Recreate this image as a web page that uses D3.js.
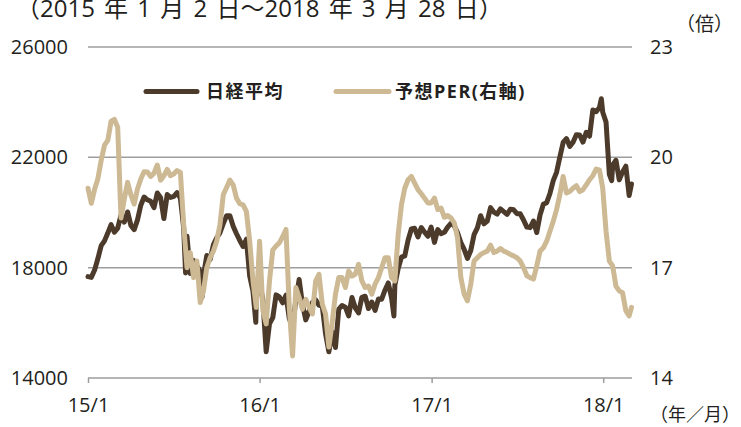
<!DOCTYPE html>
<html><head><meta charset="utf-8">
<script src="https://cdn.jsdelivr.net/npm/d3@7"></script>
<style>
body{margin:0;background:#fff}
svg{display:block}
text{font-family:'Open Sans','Noto Sans CJK JP',sans-serif;fill:#231f20}
</style>
</head><body>
<svg id="chart" width="741" height="427"></svg>
<script>
// ---- data ----
const titleText = "（2015 年 1 月 2 日～2018 年 3 月 28 日）";
const seriesNames = ["日経平均", "予想PER(右軸)"];
const rightUnit = "（倍）";
const xUnit = "（年／月）";
const startDate = "2015-01-30";   // first weekly observation shown
const lastDate = "2018-03-28";    // final observation
const nikkeiWeekly = [
17674,17648,17913,18332,18797,18971,19254,19560,19286,19435,
19907,19652,20020,19531,19379,19732,20264,20563,20461,20407,
20174,20706,20539,19779,20650,20544,20585,20724,20519,19435,
19136,17792,18264,18070,17880,17725,18438,18291,18825,19083,
19265,19597,19879,19883,19504,19230,18986,18769,19033,17698,
17147,16958,17518,16819,14952,15967,16188,17014,16938,16724,
17002,16164,15821,16848,17572,16666,16106,16412,16736,16834,
16642,16601,15599,14952,15682,15106,16497,16627,16569,16254,
16919,16545,16360,16925,16965,16519,16754,16449,16860,16856,
17184,17446,16905,17374,17968,18381,18426,18996,19401,19428,
19114,19454,19287,19137,19467,18918,19378,19235,19283,19469,
19604,19521,19262,18909,18664,18335,18620,19197,19445,19883,
19590,19686,20177,20013,19943,20132,20033,19929,20118,20099,
19959,19952,19729,19470,19452,19691,19274,19909,20296,20356,
20690,21155,21457,22008,22539,22681,22397,22550,22819,22811,
22553,22903,22765,23715,23654,23808,23632,23275,21383,21720,
21893,21182,21469,21677,20617,21031];
const perWeekly = [
19.16,18.75,19.13,19.42,19.92,20.33,20.46,20.98,21.03,20.82,
18.35,18.87,19.32,18.98,18.73,19.14,19.41,19.61,19.60,19.48,
19.57,19.79,19.38,19.50,19.67,19.50,19.55,19.64,19.59,18.17,
17.00,17.41,16.73,17.18,16.05,16.37,17.00,17.27,17.45,17.72,
18.17,18.98,19.18,19.38,19.25,18.89,18.74,18.71,18.53,17.72,
16.64,15.92,17.72,15.83,15.47,16.64,17.48,17.59,17.68,17.84,
18.04,15.92,14.60,16.46,16.19,15.87,16.14,15.92,15.74,16.64,
16.82,16.01,15.74,14.84,15.51,16.28,16.73,16.73,16.46,16.91,
16.77,16.82,17.09,16.64,16.46,16.50,16.28,16.55,16.73,17.00,
17.27,17.27,16.73,16.64,17.90,18.71,19.16,19.39,19.48,19.30,
19.12,19.01,18.89,18.76,18.76,18.89,18.58,18.62,18.37,18.42,
18.35,18.22,17.81,16.73,16.28,16.10,16.55,17.18,17.27,17.36,
17.41,17.45,17.61,17.41,17.45,17.52,17.45,17.41,17.36,17.32,
17.27,17.18,17.00,16.78,16.73,16.69,17.05,17.45,17.54,17.72,
17.99,18.26,18.58,18.98,19.48,19.03,19.07,19.16,19.23,19.07,
19.12,19.25,19.39,19.50,19.68,19.66,19.16,17.99,17.18,17.05,
16.50,16.37,16.32,15.83,15.69,15.92];
const nikkeiExtraDates = ["2015-08-25","2015-09-29","2016-01-21","2016-11-09","2018-01-23","2018-02-14"];
const nikkeiExtraValues = [17806,16930,16017,16251,24124,21154];
const leftTicks = [14000,18000,22000,26000];
const rightTicks = [14,17,20,23];
const xTickDates = ["2015-01-30","2016-01-29","2017-01-28","2018-01-27"];
const xTickLabels = ["15/1","16/1","17/1","18/1"];
const colors = {nikkei:"#4c3a2b", per:"#cdb993", grid:"#9d9d9d"};

// ---- build ----
const parse = d3.utcParse("%Y-%m-%d");
const n = nikkeiWeekly.length;
const weekDates = d3.range(n).map(i => i === n-1 ? parse(lastDate) : d3.utcDay.offset(parse(startDate), 7*i));
const nikkeiPts = weekDates.map((d,i)=>({d, v:nikkeiWeekly[i]}))
  .concat(nikkeiExtraDates.map((s,i)=>({d:parse(s), v:nikkeiExtraValues[i]})))
  .sort((a,b)=>a.d-b.d);
const perPts = weekDates.map((d,i)=>({d, v:perWeekly[i]}));

const L=88, R=631.5, T=47, B=378;
const svg = d3.select("#chart");
const x = d3.scaleUtc().domain([parse(startDate), parse(lastDate)]).range([L,R]);
const yL = d3.scaleLinear().domain([14000,26000]).range([B,T]);
const yR = d3.scaleLinear().domain([14,23]).range([B,T]);

// title
svg.append("text").attr("x",16).attr("y",17).attr("font-size",24).attr("word-spacing",3).text(titleText);

// grid
svg.append("g").selectAll("line").data(leftTicks).join("line")
  .attr("x1",L).attr("x2",632).attr("y1",d=>yL(d)).attr("y2",d=>yL(d))
  .attr("stroke",colors.grid).attr("stroke-width",1.5);

// left labels
svg.append("g").selectAll("text").data(leftTicks).join("text")
  .attr("x",68).attr("y",d=>yL(d)).attr("dy","0.35em").attr("text-anchor","end")
  .attr("font-size",20).text(d=>d);
// right labels
svg.append("g").selectAll("text").data(rightTicks).join("text")
  .attr("x",650).attr("y",d=>yR(d)).attr("dy","0.35em").attr("text-anchor","start")
  .attr("font-size",20).text(d=>d);
svg.append("text").attr("x",676).attr("y",31).attr("font-size",19).text(rightUnit);

// x axis
const xa = svg.append("g").attr("transform",`translate(0,${B})`)
  .call(d3.axisBottom(x).tickValues(xTickDates.map(parse)).tickFormat((d,i)=>xTickLabels[i]).tickSize(5));
xa.select(".domain").remove();
xa.selectAll(".tick line").attr("stroke",colors.grid).attr("stroke-width",1.5);
xa.selectAll(".tick text").attr("y",33.5).attr("dy",0).attr("font-size",20)
  .attr("font-family","'Open Sans','Noto Sans CJK JP',sans-serif").attr("fill","#231f20");
svg.append("text").attr("x",650).attr("y",421).attr("font-size",18).text(xUnit);

// lines
const lineL = d3.line().x(p=>x(p.d)).y(p=>yL(p.v));
const lineR = d3.line().x(p=>x(p.d)).y(p=>yR(p.v));
svg.append("path").datum(nikkeiPts).attr("d",lineL).attr("fill","none")
  .attr("stroke",colors.nikkei).attr("stroke-width",5).attr("stroke-linejoin","round").attr("stroke-linecap","round");
svg.append("path").datum(perPts).attr("d",lineR).attr("fill","none")
  .attr("stroke",colors.per).attr("stroke-width",5).attr("stroke-linejoin","round").attr("stroke-linecap","round");

// legend
const leg = [{x1:146,x2:197,tx:206,c:colors.nikkei,t:seriesNames[0]},{x1:336,x2:389,tx:395,c:colors.per,t:seriesNames[1]}];
const lg = svg.append("g");
leg.forEach(l=>{
  lg.append("line").attr("x1",l.x1).attr("x2",l.x2).attr("y1",91.5).attr("y2",91.5)
    .attr("stroke",l.c).attr("stroke-width",5).attr("stroke-linecap","round");
  lg.append("text").attr("x",l.tx).attr("y",97.5).attr("font-size",18).attr("font-weight",700)
    .attr("letter-spacing",1.5).text(l.t);
});
</script>
</body></html>
